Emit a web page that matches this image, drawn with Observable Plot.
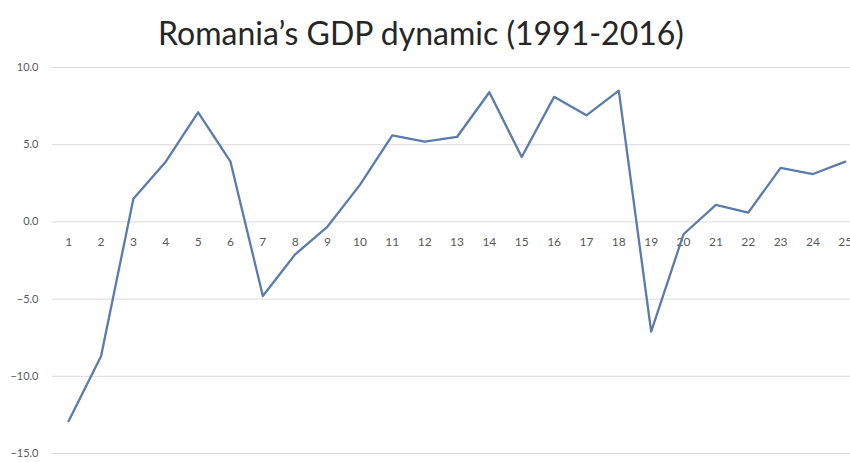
<!DOCTYPE html>
<html>
<head>
<meta charset="utf-8">
<script src="https://cdn.jsdelivr.net/npm/d3@7"></script>
<script src="https://cdn.jsdelivr.net/npm/@observablehq/plot@0.6"></script>
<style>
  html, body { margin: 0; padding: 0; background: #fff; overflow: hidden; }
  #title { height: 60px; width: 850px; position: relative; font-family: Lato, "Open Sans", sans-serif; }
  #title span { position: absolute; left: 0; width: 842px; text-align: center; top: 13px; font-size: 32px; color: #262626; white-space: nowrap; }
</style>
</head>
<body>
<div id="title"><span>Romania’s GDP dynamic (1991-2016)</span></div>
<div id="chart"></div>
<script>
const categories = [1,2,3,4,5,6,7,8,9,10,11,12,13,14,15,16,17,18,19,20,21,22,23,24,25];
const gdpGrowth = [-12.9,-8.7,1.5,3.9,7.1,3.9,-4.8,-2.1,-0.3,2.4,5.6,5.2,5.5,8.4,4.2,8.1,6.9,8.5,-7.1,-0.8,1.1,0.6,3.5,3.1,3.9];
const yTicks = [-15,-10,-5,0,5,10];

const data = categories.map((c, i) => ({cat: c, value: gdpGrowth[i]}));

const chart = Plot.plot({
  width: 850,
  height: 402,
  marginTop: 7,
  marginBottom: 9,
  marginLeft: 52,
  marginRight: 0,
  style: {fontFamily: "Lato, 'Open Sans', sans-serif", fontSize: "11px", color: "#595959", background: "#fff"},
  x: {type: "linear", domain: [0.5, 25.5], range: [52, 861], axis: null},
  y: {domain: [-15, 10], ticks: yTicks, tickFormat: d3.format(".1f"), label: null, tickSize: 0, tickPadding: 14},
  marks: [
    Plot.ruleY(yTicks, {stroke: "#d9d9d9", strokeWidth: 1}),
    Plot.text(categories, {x: d => d, y: 0, text: d => String(d), dy: 20, fill: "#595959", fontSize: 12}),
    Plot.line(data, {x: "cat", y: "value", stroke: "#5b7bab", strokeWidth: 2.3, strokeLinejoin: "round"})
  ]
});
document.getElementById("chart").appendChild(chart);
</script>
</body>
</html>
